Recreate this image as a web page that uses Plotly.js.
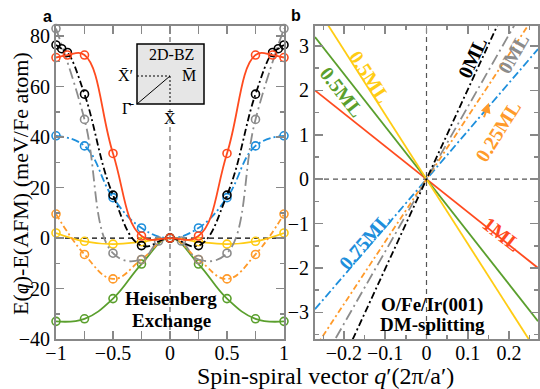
<!DOCTYPE html>
<html>
<head>
<meta charset="utf-8">
<script src="https://cdn.plot.ly/plotly-3.0.1.min.js"></script>
<style>
  html, body { margin: 0; padding: 0; background: #fff; }
  #chart { width: 540px; height: 389px; }
</style>
</head>
<body>
<div id="chart"></div>
<script>
    'use strict';

    // Panel a: Heisenberg exchange, E(q)-E(AFM) in meV/Fe atom
    var qRed = [-1, -0.9, -0.75, -0.5, -0.25, 0, 0.25, 0.5, 0.75, 0.9, 1];
    var eRed = [71.5, 72.5, 72.5, 33.5, 0.8, 0, 0.8, 33.5, 72.5, 72.5, 71.5];

    var qBlack = [-1, -0.95, -0.9, -0.75, -0.5, -0.25, 0, 0.25, 0.5, 0.75, 0.9, 0.95, 1];
    var eBlack = [76.5, 75, 73.5, 57, 17, -3, 0, -3, 17, 57, 73.5, 75, 76.5];

    var qGray = [-1, -0.75, -0.5, -0.25, -0.1, 0, 0.1, 0.25, 0.5, 0.75, 1];
    var eGray = [83, 47, -6, -8.5, -1.2, 0, -1.2, -8.5, -6, 47, 83];

    var qBlue = [-1, -0.75, -0.5, -0.25, 0, 0.25, 0.5, 0.75, 1];
    var eBlue = [40.5, 36.5, 16, 4, 0, 4, 16, 36.5, 40.5];

    var qOrange = [-1, -0.75, -0.5, -0.25, 0, 0.25, 0.5, 0.75, 1];
    var eOrange = [9.5, -6.5, -16.2, -8.5, 0, -8.5, -16.2, -6.5, 9.5];

    var qYellow = [-1, -0.75, -0.5, -0.25, 0, 0.25, 0.5, 0.75, 1];
    var eYellow = [2, -1.3, -2.4, -1.5, 0, -1.5, -2.4, -1.3, 2];

    var qGreen = [-1, -0.75, -0.5, -0.25, 0, 0.25, 0.5, 0.75, 1];
    var eGreen = [-33, -32, -24, -10.3, 0, -10.3, -24, -32, -33];

    // Panel b: DM splitting, lines through the origin
    var qB = [-0.27, 0.27];
    var dmRed = [2.0, -2.0];
    var dmGreen = [3.2, -3.2];
    var dmYellow = [3.93, -3.93];
    var dmBlack = [-5.45, 5.45];
    var dmGray = [-4.4, 4.4];
    var dmOrange = [-3.8, 3.8];
    var dmBlue = [-2.93, 2.93];

    var cRed = '#ff4b1f', cBlack = '#000000', cGray = '#8c8c8c', cBlue = '#1e8fdc',
        cOrange = '#ff9a2a', cYellow = '#ffcc14', cGreen = '#5a9f2d';

    var serif = '"Liberation Serif", "Times New Roman", serif';

    var dashBlack = '7px,3px,2px,3px';
    var dashGray = '11px,4px,2px,4px';
    var dashBlue = '8px,3px,2px,3px';
    var dashOrange = '6px,3px,2px,3px';

    function curve(q, e, color, dash) {
        return {
            x: q, y: e, xaxis: 'x', yaxis: 'y', type: 'scatter', mode: 'lines+markers',
            line: {color: color, width: 1.8, dash: dash, shape: 'spline', smoothing: 1.2},
            marker: {symbol: 'circle-open', size: 8, color: color, line: {width: 1.6, color: color}},
            cliponaxis: false, hoverinfo: 'skip'
        };
    }
    function dmLine(e, color, dash) {
        return {
            x: qB, y: e, xaxis: 'x2', yaxis: 'y2', type: 'scatter', mode: 'lines',
            line: {color: color, width: 1.8, dash: dash}, hoverinfo: 'skip'
        };
    }

    var data = [
        curve(qGreen, eGreen, cGreen, 'solid'),
        curve(qYellow, eYellow, cYellow, 'solid'),
        curve(qOrange, eOrange, cOrange, dashOrange),
        curve(qBlue, eBlue, cBlue, dashBlue),
        curve(qGray, eGray, cGray, dashGray),
        curve(qBlack, eBlack, cBlack, dashBlack),
        curve(qRed, eRed, cRed, 'solid'),
        dmLine(dmRed, cRed, 'solid'),
        dmLine(dmGreen, cGreen, 'solid'),
        dmLine(dmYellow, cYellow, 'solid'),
        dmLine(dmBlue, cBlue, dashBlue),
        dmLine(dmOrange, cOrange, dashOrange),
        dmLine(dmGray, cGray, dashGray),
        dmLine(dmBlack, cBlack, dashBlack)
    ];

    function axis(extra) {
        var base = {
            showline: true, mirror: 'allticks', linecolor: '#888', linewidth: 2,
            ticks: 'inside', ticklen: 8, tickwidth: 1.5, tickcolor: '#888',
            showgrid: false, zeroline: false,
            tickfont: {family: serif, size: 20, color: '#000'}
        };
        for (var k in extra) base[k] = extra[k];
        return base;
    }

    function px(x) { return x / 540; }
    function py(y) { return 1 - y / 389; }

    var shapes = [
        // dashed zero lines
        {type: 'line', xref: 'x', yref: 'y', x0: -1, x1: 1, y0: 0, y1: 0, layer: 'below',
            line: {color: '#000', width: 1.2, dash: '5px,4px'}},
        {type: 'line', xref: 'x', yref: 'y', x0: 0, x1: 0, y0: -40, y1: 84, layer: 'below',
            line: {color: '#888', width: 1.5, dash: '5px,4px'}},
        {type: 'line', xref: 'x2', yref: 'y2', x0: -0.27, x1: 0.27, y0: 0, y1: 0, layer: 'below',
            line: {color: '#555', width: 1.2, dash: '5px,4px'}},
        {type: 'line', xref: 'x2', yref: 'y2', x0: 0, x1: 0, y0: -3.6, y1: 3.45, layer: 'below',
            line: {color: '#555', width: 1.2, dash: '5px,4px'}},
        // 2D-BZ inset
        {type: 'rect', xref: 'paper', yref: 'paper', x0: px(137), x1: px(204), y0: py(104), y1: py(44),
            fillcolor: '#e6e6e6', line: {color: '#000', width: 1.5}, layer: 'above'},
        {type: 'line', xref: 'paper', yref: 'paper', x0: px(137), x1: px(170), y0: py(76), y1: py(76),
            line: {color: '#000', width: 1, dash: '2px,2px'}, layer: 'above'},
        {type: 'line', xref: 'paper', yref: 'paper', x0: px(170), x1: px(170), y0: py(76), y1: py(104),
            line: {color: '#000', width: 1, dash: '2px,2px'}, layer: 'above'},
        {type: 'line', xref: 'paper', yref: 'paper', x0: px(137), x1: px(170), y0: py(104), y1: py(76),
            line: {color: '#000', width: 1}, layer: 'above'}
    ];

    function note(x, y, text, size, opts) {
        var a = {xref: 'paper', yref: 'paper', x: px(x), y: py(y), text: text, showarrow: false,
            xanchor: 'center', yanchor: 'middle',
            font: {family: serif, size: size, color: '#000'}};
        for (var k in opts) a[k] = opts[k];
        return a;
    }
    function label(x, y, text, color, angle) {
        return {xref: 'x2', yref: 'y2', x: x, y: y, text: '<b>' + text + '</b>', showarrow: false,
            textangle: angle, font: {family: serif, size: 20, color: color}};
    }

    var sans = {family: '"Liberation Sans", Arial, sans-serif', size: 16, color: '#000'};

    var annotations = [
        note(47, 17, '<b>a</b>', 16, {font: sans}),
        note(296, 16, '<b>b</b>', 16, {font: sans}),
        note(20, 184, 'E(<i>q</i>)-E(AFM) (meV/Fe atom)', 22, {textangle: -90}),
        note(325, 389, 'Spin-spiral vector <i>q</i>\u2032(2\u03c0/a\u2032)', 24, {yanchor: 'bottom', yshift: -2}),
        note(171, 298, '<b>Heisenberg</b>', 19),
        note(171, 320, '<b>Exchange</b>', 19),
        note(432, 305, '<b>O/Fe/Ir(001)</b>', 19),
        note(432, 324, '<b>DM-splitting</b>', 19),
        note(171, 55, '2D-BZ', 16),
        note(135, 76, 'X\u0304\u2032', 16, {xanchor: 'right'}),
        note(180, 76, 'M\u0304', 16, {xanchor: 'left'}),
        note(128, 108, '\u0393\u0304', 16),
        note(170, 118, 'X\u0304', 16),
        label(-0.137, 2.30, '0.5ML', cYellow, 57),
        label(-0.205, 1.96, '0.5ML', cGreen, 52),
        label(0.11, 2.74, '0ML', cBlack, -65),
        label(0.209, 2.83, '0ML', cGray, -60),
        label(0.173, 1.09, '0.25ML', cOrange, -58),
        label(-0.149, -1.39, '0.75ML', cBlue, -49),
        label(0.182, -1.23, '1ML', cRed, 38),
        {xref: 'x2', yref: 'y2', axref: 'x2', ayref: 'y2', x: 0.151, y: 1.72, ax: 0.138, ay: 1.36,
            showarrow: true, arrowhead: 2, arrowsize: 1, arrowwidth: 2, arrowcolor: cOrange, text: ''}
    ];

    var layout = {
        width: 540, height: 389,
        margin: {l: 0, r: 0, t: 0, b: 0},
        paper_bgcolor: '#fff', plot_bgcolor: '#fff',
        showlegend: false,
        xaxis: axis({domain: [px(56), px(284)], range: [-1, 1], tick0: 0, dtick: 0.5, anchor: 'y',
            ticklabelstandoff: -5,
            minor: {dtick: 0.25, ticklen: 8, tickcolor: '#888', tickwidth: 1.5, ticks: 'inside'}}),
        yaxis: axis({domain: [py(339), py(26)], range: [-40, 84], tick0: 0, dtick: 20, anchor: 'x',
            minor: {dtick: 10, ticklen: 4, tickcolor: '#888', tickwidth: 1.5, ticks: 'inside'}}),
        xaxis2: axis({domain: [px(315), px(538)], range: [-0.27, 0.27], tick0: 0, dtick: 0.1, anchor: 'y2',
            ticklabelstandoff: -5,
            minor: {dtick: 0.05, ticklen: 4, tickcolor: '#888', tickwidth: 1.5, ticks: 'inside'}}),
        yaxis2: axis({domain: [py(339), py(26)], range: [-3.6, 3.45], tick0: 0, dtick: 1, anchor: 'x2',
            minor: {dtick: 0.5, ticklen: 4, tickcolor: '#888', tickwidth: 1.5, ticks: 'inside'}}),
        shapes: shapes,
        annotations: annotations
    };

    Plotly.newPlot('chart', data, layout, {displayModeBar: false, staticPlot: true});
</script>
</body>
</html>
